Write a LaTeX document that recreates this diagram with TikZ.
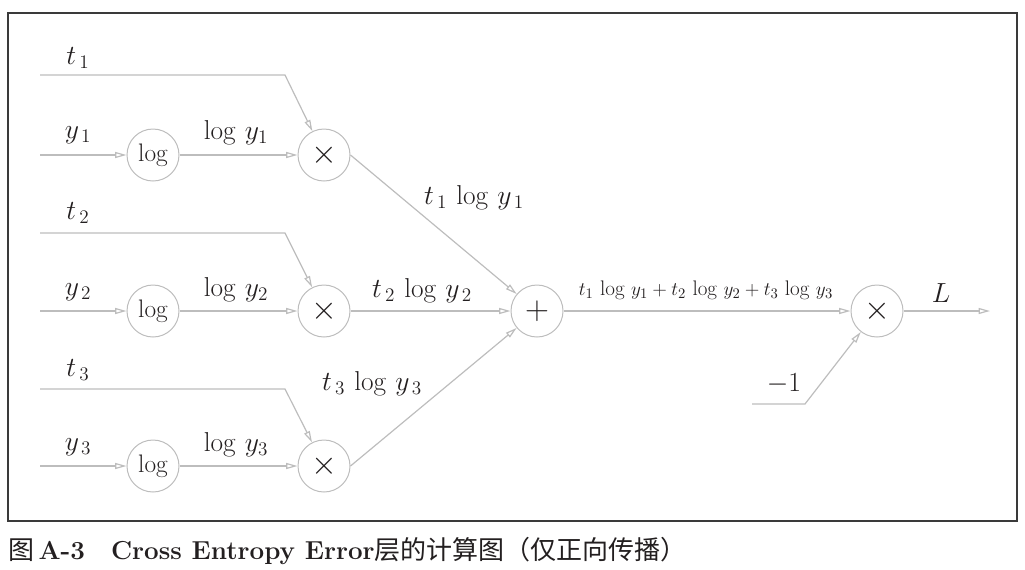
\documentclass[tikz,border=0pt]{standalone}
\usepackage{fontspec}
\newfontfamily\cjk{Noto Sans CJK SC}
\usetikzlibrary{arrows.meta,positioning}
\definecolor{wire}{HTML}{BDBDBD}
\definecolor{ink}{HTML}{231F20}
\definecolor{frame}{HTML}{3A3A3A}
\tikzset{
  >={Triangle[open,length=8.5pt,width=4.5pt]},
  every node/.style={text=ink},
  op/.style={circle,draw=wire,line width=0.75pt,minimum size=39pt,inner sep=0pt,font=\fontsize{19}{21}\selectfont},
  symop/.style={op,font=\fontsize{23}{25}\selectfont},
  wire/.style={->,draw=wire,line width=0.9pt},
  lbl/.style={font=\fontsize{20.5}{23}\selectfont,inner sep=1pt},
  sumlbl/.style={font=\fontsize{15.8}{18}\selectfont,inner sep=1pt},
  caption/.style={font=\fontsize{19.5}{22}\selectfont,inner sep=0pt,anchor=west},
}

\begin{document}
\begin{tikzpicture}[x=0.75pt,y=-0.75pt]
\useasboundingbox (0,0) rectangle (1025,569);
\draw[frame,line width=1.1pt] (8,13) rectangle (1017,521);

% operation nodes
\node[op] (log1) at (153,155) {log};
\node[op] (log2) at (153,311) {log};
\node[op] (log3) at (153,466) {log};
\node[symop] (mul1) at (324,155) {$\times$};
\node[symop] (mul2) at (324,311) {$\times$};
\node[symop] (mul3) at (324,466) {$\times$};
\node[symop] (plus) at (537,311) {$+$};
\node[symop] (mulL) at (877,311) {$\times$};

% free ends
\coordinate (t1in) at (40,75);   \coordinate (t1k) at (285,75);
\coordinate (t2in) at (40,233);  \coordinate (t2k) at (285,233);
\coordinate (t3in) at (40,389);  \coordinate (t3k) at (285,389);
\coordinate (y1in) at (40,155);
\coordinate (y2in) at (40,311);
\coordinate (y3in) at (40,466);
\coordinate (m1in) at (752,404); \coordinate (m1k) at (805,404);
\coordinate (out) at (990,311);

% wires
\draw[wire] (t1in) -- (t1k) -- (mul1);
\draw[wire] (t2in) -- (t2k) -- (mul2);
\draw[wire] (t3in) -- (t3k) -- (mul3);
\draw[wire] (y1in) -- (log1.west);
\draw[wire] (y2in) -- (log2.west);
\draw[wire] (y3in) -- (log3.west);
\draw[wire] (log1.east) -- (mul1.west);
\draw[wire] (log2.east) -- (mul2.west);
\draw[wire] (log3.east) -- (mul3.west);
\draw[wire] (mul1.east) -- (plus);
\draw[wire] (mul2.east) -- (plus.west);
\draw[wire] (mul3.east) -- (plus);
\draw[wire] (plus.east) -- (mulL.west);
\draw[wire] (m1in) -- (m1k) -- (mulL);
\draw[wire] (mulL.east) -- (out);

% labels
\node[lbl] (lt1) at (78,58) {$t_{\,1}$};
\node[lbl] (lt2) at (78,213) {$t_{\,2}$};
\node[lbl] (lt3) at (78,370) {$t_{\,3}$};
\node[lbl] (ly1) at (78,135) {$y_{\,1}$};
\node[lbl] (ly2) at (78,292) {$y_{\,2}$};
\node[lbl] (ly3) at (78,447) {$y_{\,3}$};
\node[lbl] (llog1) at (236,133) {$\log\,y_1$};
\node[lbl] (llog2) at (236,290) {$\log\,y_2$};
\node[lbl] (llog3) at (236,445) {$\log\,y_3$};
\node[lbl] (lm1) at (474,198) {$t_{\,1}\,\log\,y_{\,1}$};
\node[lbl] (lm2) at (422,291) {$t_{\,2}\,\log\,y_{\,2}$};
\node[lbl] (lm3) at (372,384) {$t_{\,3}\,\log\,y_{\,3}$};
\node[sumlbl] (lsum) at (706,290) {$t_1\,\log\,y_1+t_2\,\log\,y_2+t_3\,\log\,y_3$};
\node[lbl] (lL) at (941,293) {$L$};
\node[lbl] (lm) at (784,384) {$-1$};

% caption
\node[caption] (cap) at (8,551) {{\cjk 图}\,\textbf{A-3}\quad\textbf{Cross Entropy Error}{\cjk 层的计算图（仅正向传播）}};
\end{tikzpicture}
\end{document}
